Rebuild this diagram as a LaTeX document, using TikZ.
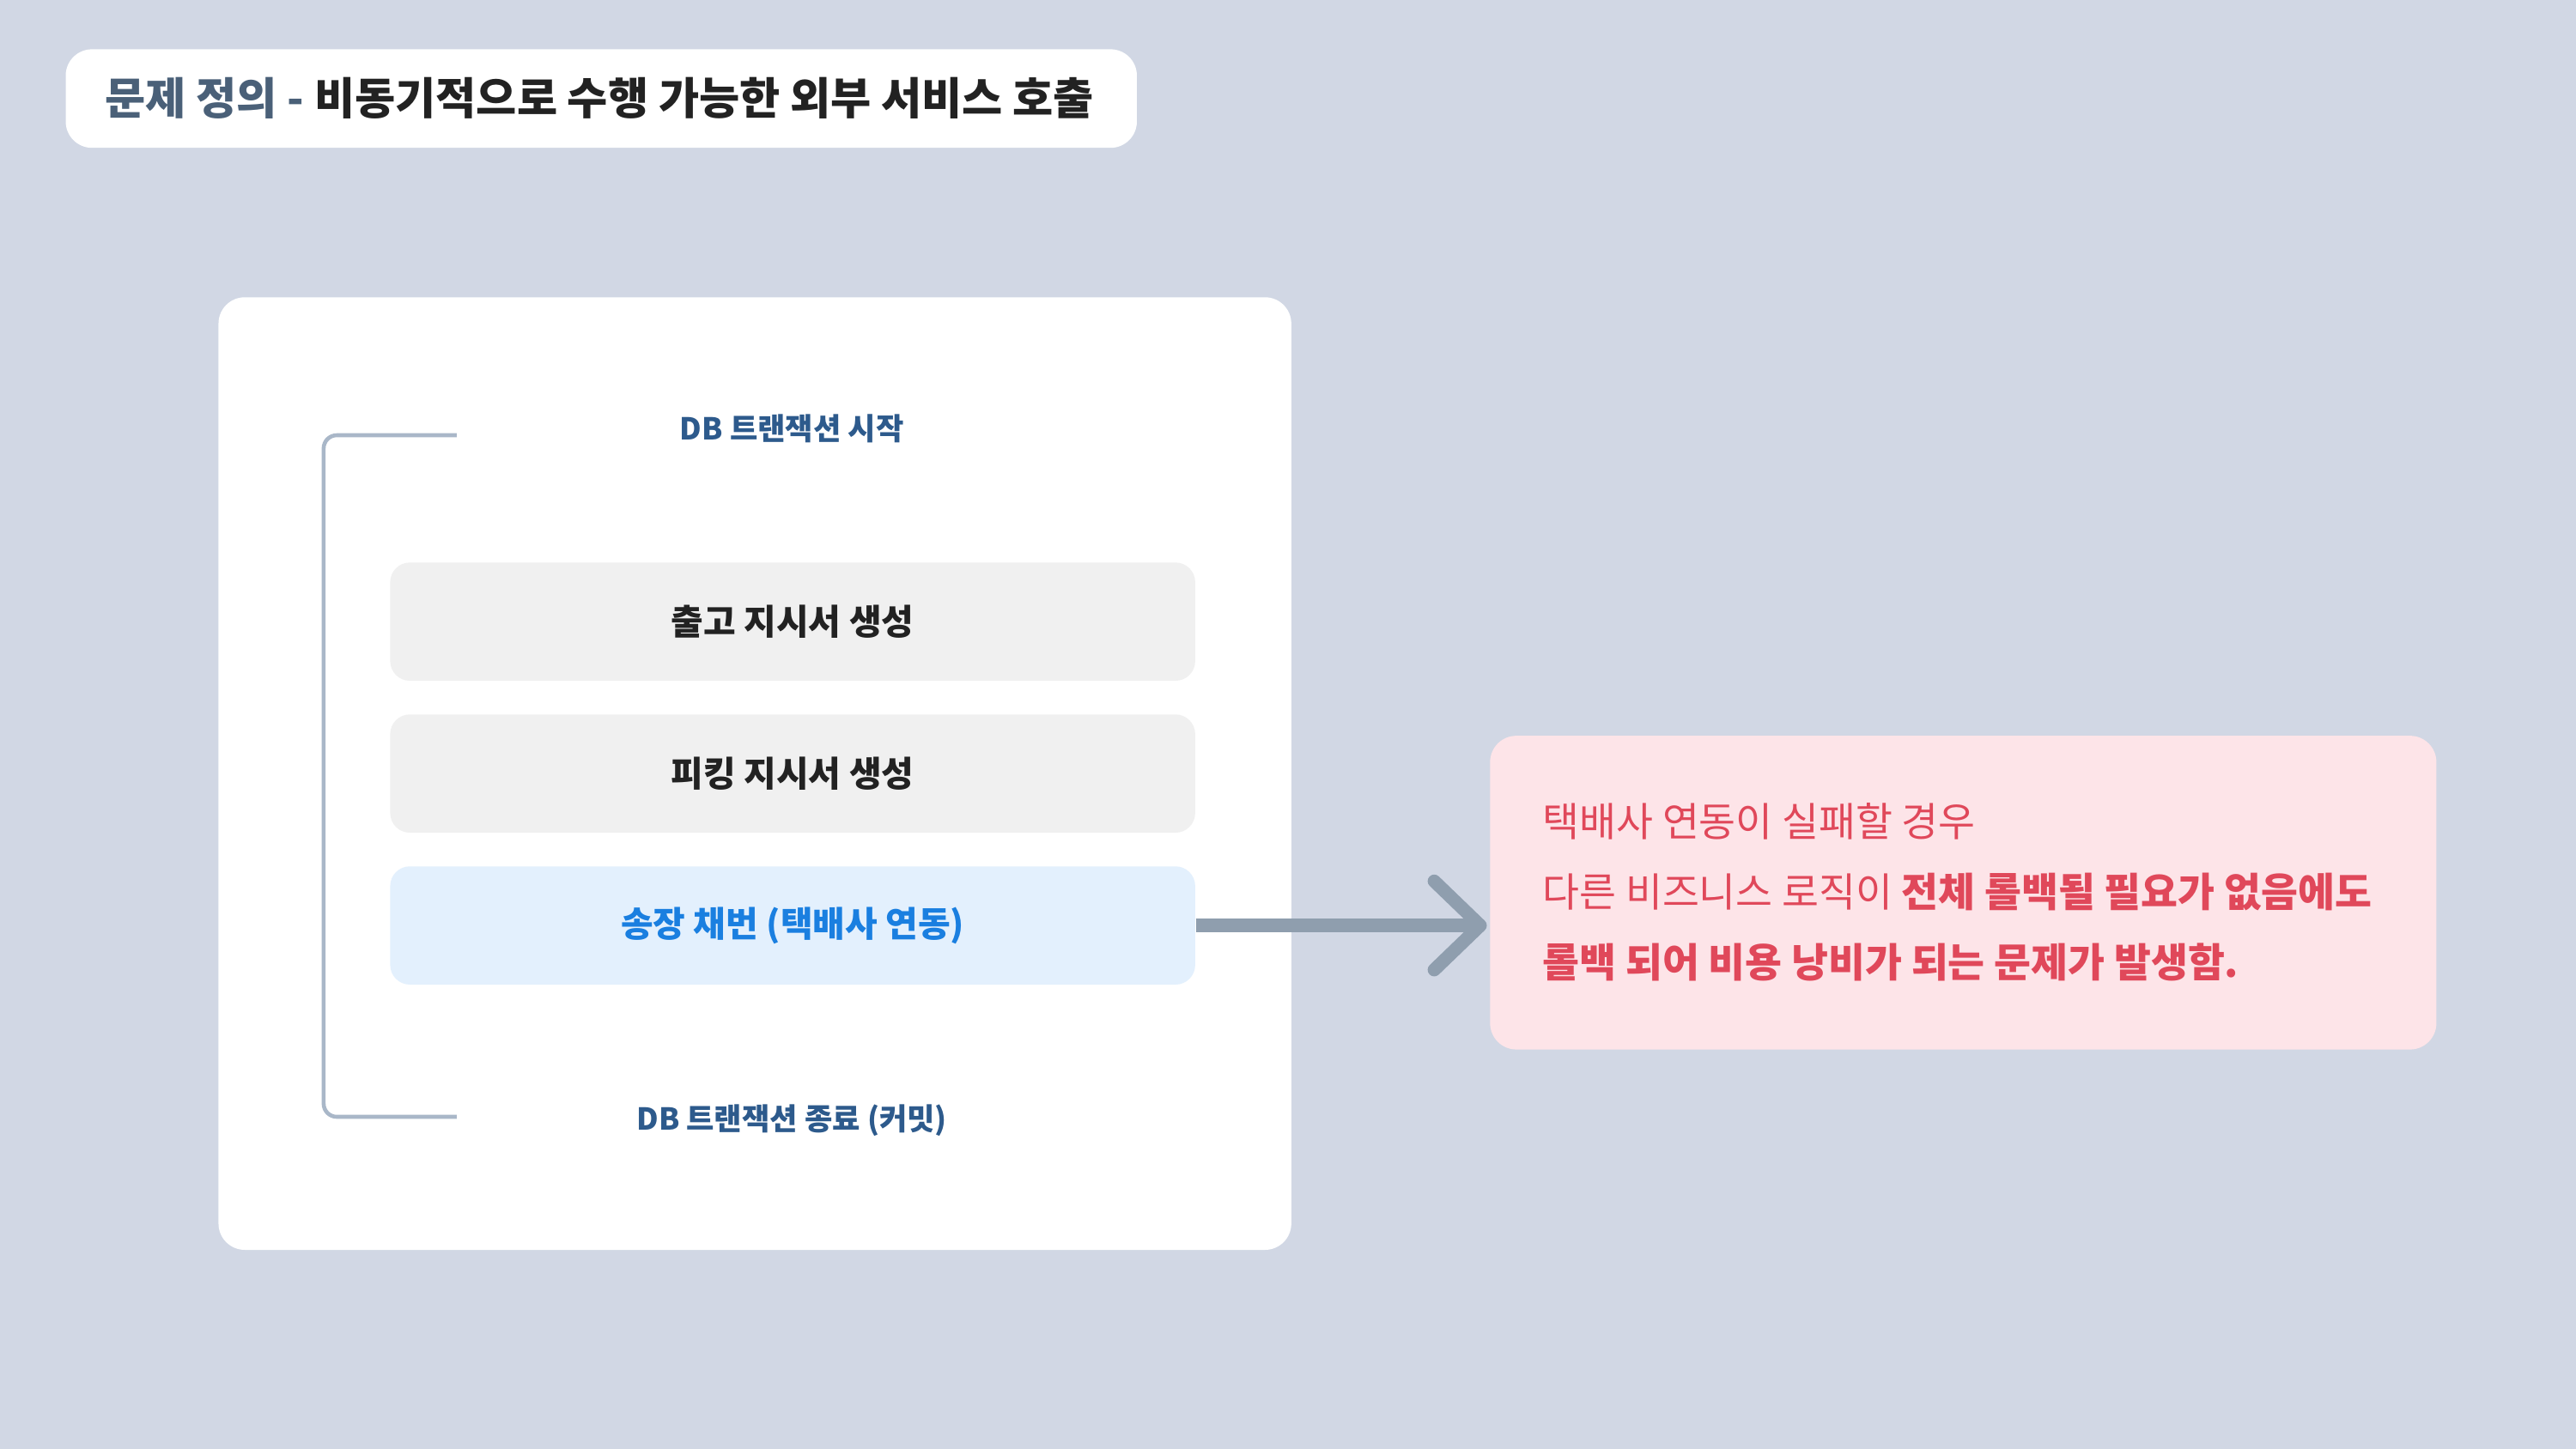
\documentclass[tikz,border=0pt]{standalone}
\usepackage{fontspec}
\setmainfont{Noto Sans CJK KR}
\definecolor{bg}{HTML}{D1D7E4}
\definecolor{brk}{HTML}{A9B7C8}
\definecolor{dbc}{HTML}{2D5A8C}
\definecolor{gbox}{HTML}{F0F0F0}
\definecolor{bbox}{HTML}{E3F0FD}
\definecolor{btxt}{HTML}{1A7FE0}
\definecolor{pbox}{HTML}{FDE4E8}
\definecolor{ptxt}{HTML}{E0485A}
\definecolor{arr}{HTML}{8F9EAE}
\definecolor{ttl}{HTML}{4A6078}
\definecolor{dark}{HTML}{222222}
\tikzset{stepbox/.style={rounded corners=6pt,minimum width=245pt,minimum height=36pt,font=\fontsize{10.7}{12}\selectfont\bfseries,text=dark}}
\begin{document}
\begin{tikzpicture}[x=0.5pt,y=-0.5pt]
\fill[bg] (0,0) rectangle (1568,882);
\useasboundingbox (0,0) rectangle (1568,882);
\fill[white,rounded corners=8pt] (40,30) rectangle (692,90);
\node[anchor=west,font=\fontsize{13.4}{15}\selectfont\bfseries] (title) at (57,60) {\textcolor{ttl}{문제 정의 -} \textcolor{dark}{비동기적으로 수행 가능한 외부 서비스 호출}};
\fill[white,rounded corners=8pt] (133,181) rectangle (786,761);
\draw[brk,line width=1.2pt,rounded corners=4pt] (278,265) -- (197,265) -- (197,680) -- (278,680);
\node[font=\fontsize{9.2}{11}\selectfont\bfseries,text=dbc] (s) at (482,261) {DB 트랜잭션 시작};
\node[font=\fontsize{9.2}{11}\selectfont\bfseries,text=dbc] (e) at (482,682) {DB 트랜잭션 종료 (커밋)};
\node[stepbox,fill=gbox] (b1) at (482.5,378.5) {출고 지시서 생성};
\node[stepbox,fill=gbox] (b2) at (482.5,471) {피킹 지시서 생성};
\node[stepbox,fill=bbox,text=btxt] (b3) at (482.5,563.5) {송장 채번 (택배사 연동)};
\node[fill=pbox,rounded corners=8pt,minimum width=288pt,minimum height=95.5pt] (p) at (1195,543.5) {};
\coordinate (tip) at (901,563.5);
\draw[arr,line width=4pt] (b3.east) -- (tip);
\draw[arr,line width=4pt,line cap=round,line join=round] (873,536.5) -- (tip) -- (873,590.5);
\begin{scope}[font=\fontsize{12.2}{14}\selectfont,text=ptxt]
\node[anchor=west] (l1) at (932,500) {택배사 연동이 실패할 경우};
\node[anchor=west] (l2) at (932,543) {다른 비즈니스 로직이 \textbf{전체 롤백될 필요가 없음에도}};
\node[anchor=west] (l3) at (932,586) {\textbf{롤백 되어 비용 낭비가 되는 문제가 발생함.}};
\end{scope}
\end{tikzpicture}
\end{document}
